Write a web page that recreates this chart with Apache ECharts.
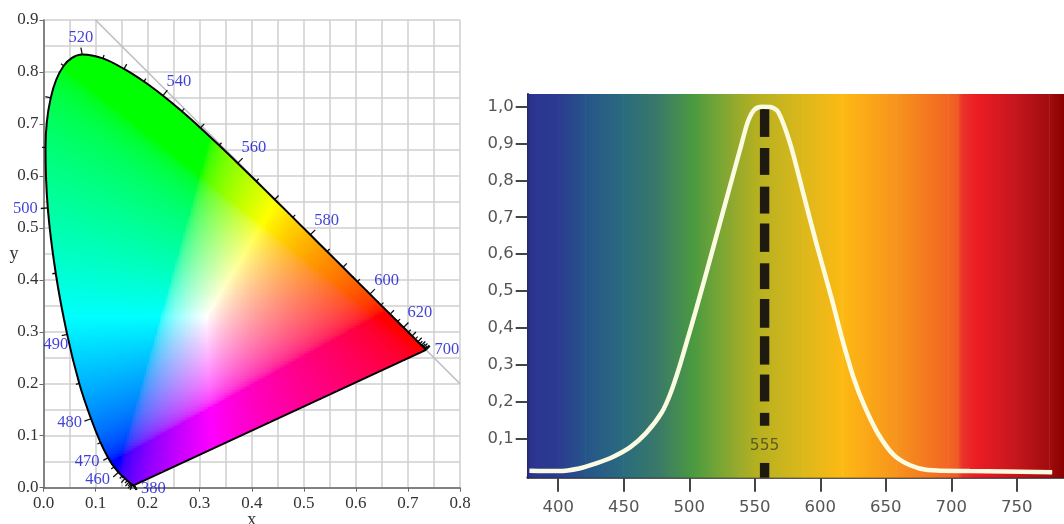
<!DOCTYPE html>
<html><head><meta charset="utf-8">
<style>html,body{margin:0;padding:0;background:#fff}#c{width:1064px;height:524px}</style>
<script src="https://cdn.jsdelivr.net/npm/echarts@6/dist/echarts.min.js"></script>
</head><body><div id="c"></div>
<script>
// Left panel: spectral locus of the chromaticity diagram
var locusWl = [380,385,390,395,400,405,410,415,420,425,430,435,440,445,450,455,460,465,470,475,480,485,490,495,500,505,510,515,520,525,530,535,540,545,550,555,560,565,570,575,580,585,590,595,600,605,610,615,620,625,630,635,640,645,650,655,660,665,670,675,680,700];
var locusX = [.1741,.1740,.1738,.1736,.1733,.1730,.1726,.1721,.1714,.1703,.1689,.1669,.1644,.1611,.1566,.1510,.1440,.1355,.1241,.1096,.0913,.0687,.0454,.0235,.0082,.0039,.0139,.0389,.0743,.1142,.1547,.1929,.2296,.2658,.3016,.3373,.3731,.4087,.4441,.4788,.5125,.5448,.5752,.6029,.6270,.6482,.6658,.6801,.6915,.7006,.7079,.7140,.7190,.7230,.7260,.7283,.7300,.7320,.7334,.7344,.7347,.7347];
var locusY = [.0050,.0050,.0049,.0049,.0048,.0048,.0048,.0048,.0051,.0058,.0069,.0086,.0109,.0138,.0177,.0227,.0297,.0399,.0578,.0868,.1327,.2007,.2950,.4127,.5384,.6548,.7502,.8120,.8338,.8262,.8059,.7816,.7543,.7243,.6923,.6589,.6245,.5896,.5547,.5202,.4866,.4544,.4242,.3965,.3725,.3514,.3340,.3197,.3083,.2993,.2920,.2859,.2809,.2770,.2740,.2717,.2700,.2680,.2666,.2656,.2653,.2653];
var labelWl = [380,460,470,480,490,500,520,540,560,580,600,620,700];
var labelX = [.211,.104,.084,.05,.024,-.035,.072,.26,.404,.544,.659,.723,.775];
var labelY = [-.001,.015,.05,.126,.275,.537,.866,.782,.654,.513,.398,.336,.266];
var diagonalX = [.1,.8];
var diagonalY = [.9,.2];
// Right panel: sensitivity curve
var curveWl = [378,400,416,429,442,455,467,479,486,493,500,510,520,530,540,545,550,556,562,568,577,587,597,609,617,626,634,644,656,669,682,714,777];
var curveV = [.012,.011,.018,.032,.05,.076,.114,.17,.225,.30,.385,.51,.64,.77,.90,.962,.993,1,.999,.985,.90,.765,.629,.475,.366,.258,.185,.113,.055,.026,.014,.011,.008];
var dashStart = [.995,.888,.783,.683,.575,.478,.377,.273,.169,.033];
var dashEnd = [.918,.815,.71,.606,.505,.40,.30,.20,.134,-.007];
var peakWl = 557.5;
var stopWl = [376.7,380,400,421,450,477,503,518,538,551,587,617,658,698,705,708,719,750,775,786];
var stopColor = ['#262a7c','#2b3590','#2b3b90','#26558a','#2a6b7e','#3a7a68','#4a9a40','#6ca338','#9aab2b','#b4b020','#dcb81c','#fdb913','#f7941d','#f26522','#f05a26','#e9342b','#ed1c24','#c4161c','#a00c0e','#8a0000'];
var xTicksRight = [400,450,500,550,600,650,700,750];
var yTicksRight = [.1,.2,.3,.4,.5,.6,.7,.8,.9,1];

// Outline used only to test whether a fill cell lies within the smooth locus
function denseOutline(){
  var px=[],py=[],n=locusX.length;
  for(var i=0;i<n-1;i++){
    var a=Math.max(i-1,0),d=Math.min(i+2,n-1);
    for(var k=0;k<6;k++){
      var t=k/6,t2=t*t,t3=t2*t;
      function cr(p){return .5*(2*p[i]+(p[i+1]-p[a])*t+(2*p[a]-5*p[i]+4*p[i+1]-p[d])*t2+(-p[a]+3*p[i]-3*p[i+1]+p[d])*t3);}
      px.push(cr(locusX));py.push(cr(locusY));
    }
  }
  return [px,py];
}
var outline=denseOutline(),ox=outline[0],oy=outline[1];
function inside(x,y){
  var c=false,n=ox.length;
  for(var i=0,j=n-1;i<n;j=i++){
    if((oy[i]>y)!==(oy[j]>y)&&x<(ox[j]-ox[i])*(y-oy[i])/(oy[j]-oy[i])+ox[i])c=!c;
  }
  return c;
}
function xyColor(x,y){
  var z=1-x-y,X=x,Y=y,Z=z;
  var r=3.2406*X-1.5372*Y-0.4986*Z,g=-0.9689*X+1.8758*Y+0.0415*Z,b=0.0557*X-0.2040*Y+1.0570*Z;
  r=Math.max(r,0);g=Math.max(g,0);b=Math.max(b,0);
  var m=Math.max(r,g,b);r/=m;g/=m;b/=m;
  function gm(v){return Math.round(255*(v<=.0031308?12.92*v:1.055*Math.pow(v,1/2.4)-.055));}
  return 'rgb('+gm(r)+','+gm(g)+','+gm(b)+')';
}
var step=.003,cells=[];
for(var cx=0;cx<.76;cx+=step){for(var cy=0;cy<.85;cy+=step){
  if(inside(cx,cy))cells.push([cx,cy]);
}}
var serif='"Liberation Serif"',sans='"DejaVu Sans"';
var gridGray='#cfcfcf';
var option={
  backgroundColor:'#fff',animation:false,
  grid:[{left:43.5,top:20,width:416.5,height:467.7,outerBoundsMode:'none'},{left:527.7,top:94,width:536.3,height:383.7,outerBoundsMode:'none'}],
  xAxis:[
   {type:'value',gridIndex:0,min:0,max:.8,interval:.1,name:'x',nameLocation:'middle',nameGap:24,nameMoveOverlap:false,
    nameTextStyle:{fontFamily:serif,fontSize:18,color:'#333'},
    axisLine:{show:true,onZero:false,lineStyle:{color:'#666',width:1.5}},axisTick:{show:true,length:4,lineStyle:{color:'#666'}},
    axisLabel:{fontFamily:serif,fontSize:17,color:'#333',margin:7,formatter:function(v){return v.toFixed(1);}},
    splitLine:{show:true,lineStyle:{color:gridGray,width:1.5}},minorTick:{show:false,splitNumber:2},minorSplitLine:{show:true,lineStyle:{color:gridGray,width:1.5}}},
   {type:'value',gridIndex:1,min:376.7,max:786,
    axisLine:{show:true,onZero:false,lineStyle:{color:'#222',width:2.5}},
    axisTick:{show:true,length:14,customValues:xTicksRight,lineStyle:{color:'#444',width:2}},
    axisLabel:{fontFamily:sans,fontSize:16.5,color:'#555',margin:22,customValues:xTicksRight,formatter:function(v){return String(v);}},
    splitLine:{show:false}}
  ],
  yAxis:[
   {type:'value',gridIndex:0,min:0,max:.9,interval:.1,name:'y',nameLocation:'middle',nameGap:25,nameRotate:0,nameMoveOverlap:false,
    nameTextStyle:{fontFamily:serif,fontSize:18,color:'#333'},
    axisLine:{show:true,onZero:false,lineStyle:{color:'#666',width:1.5}},axisTick:{show:true,length:4,lineStyle:{color:'#666'}},
    axisLabel:{fontFamily:serif,fontSize:17,color:'#333',margin:5,formatter:function(v){return v.toFixed(1);}},
    splitLine:{show:true,lineStyle:{color:gridGray,width:1.5}},minorTick:{show:false,splitNumber:2},minorSplitLine:{show:true,lineStyle:{color:gridGray,width:1.5}}},
   {type:'value',gridIndex:1,min:-.007,max:1.0345,
    axisLine:{show:true,onZero:false,lineStyle:{color:'#1f2560',width:2}},
    axisTick:{show:true,length:12,customValues:yTicksRight,lineStyle:{color:'#444',width:2}},
    axisLabel:{fontFamily:sans,fontSize:16.5,color:'#555',margin:14,customValues:yTicksRight,formatter:function(v){return v.toFixed(1).replace('.',',');}},
    splitLine:{show:false}}
  ],
  series:[
   {type:'line',xAxisIndex:0,yAxisIndex:0,z:2,showSymbol:false,silent:true,
    data:diagonalX.map(function(x,i){return [x,diagonalY[i]];}),lineStyle:{color:'#bdbdbd',width:1.5}},
   {type:'custom',xAxisIndex:0,yAxisIndex:0,z:3,silent:true,progressive:0,coordinateSystem:'cartesian2d',clip:false,
    data:cells,
    renderItem:function(p,api){
      var x=api.value(0),y=api.value(1);
      var a=api.coord([x-step/2,y+step/2]),b=api.coord([x+step/2,y-step/2]);
      var x0=Math.round(a[0]),y0=Math.round(a[1]),x1=Math.round(b[0]),y1=Math.round(b[1]);
      return {type:'rect',shape:{x:x0,y:y0,width:Math.max(x1-x0,1),height:Math.max(y1-y0,1)},style:{fill:xyColor(x,y)}};
    }},
   {type:'line',xAxisIndex:0,yAxisIndex:0,z:4,showSymbol:false,silent:true,clip:false,smooth:.35,
    data:locusX.map(function(x,i){return [x,locusY[i]];}),
    lineStyle:{color:'#000',width:2,join:'round'}},
   {type:'line',xAxisIndex:0,yAxisIndex:0,z:4,showSymbol:false,silent:true,clip:false,
    data:[[locusX[0],locusY[0]],[locusX[locusX.length-1],locusY[locusY.length-1]]],
    lineStyle:{color:'#000',width:2}},
   {type:'custom',xAxisIndex:0,yAxisIndex:0,z:4,silent:true,clip:false,progressive:0,
    data:locusWl.map(function(w,i){return [locusX[i],locusY[i],w];}),
    renderItem:function(p,api){
      var i=p.dataIndex,n=locusX.length,w=api.value(2);
      var a=api.coord([locusX[Math.max(i-1,0)],locusY[Math.max(i-1,0)]]),b=api.coord([locusX[Math.min(i+1,n-1)],locusY[Math.min(i+1,n-1)]]);
      var dx=b[0]-a[0],dy=b[1]-a[1],l=Math.sqrt(dx*dx+dy*dy),nx,ny;
      if(l<.8){ if(w>600){nx=.7;ny=-.7;}else{nx=.5;ny=.85;} }
      else{nx=dy/l;ny=-dx/l;}
      var o=api.coord([api.value(0),api.value(1)]),len=(w%10===0)?((w%20===0&&w>=460&&w<=620)?7:5.5):3.5;
      return {type:'line',shape:{x1:o[0],y1:o[1],x2:o[0]+nx*len,y2:o[1]+ny*len},style:{stroke:'#111',lineWidth:1.3}};
    }},
   {type:'scatter',xAxisIndex:0,yAxisIndex:0,z:5,symbolSize:0,silent:true,clip:false,
    data:labelWl.map(function(w,i){return {value:[labelX[i],labelY[i]],name:String(w)};}),
    label:{show:true,position:'inside',formatter:'{b}',fontFamily:serif,fontSize:16.5,color:'#1010d0'}},
   {type:'custom',xAxisIndex:1,yAxisIndex:1,z:1,silent:true,clip:false,
    data:stopWl.slice(0,-1).map(function(w,i){return [w,stopWl[i+1],i];}),
    renderItem:function(p,api){
      var i=api.value(2);
      var a=api.coord([api.value(0),1.0345]),b=api.coord([api.value(1),-.007]);
      return {type:'rect',shape:{x:a[0]-.2,y:a[1],width:b[0]-a[0]+.4,height:b[1]-a[1]},
        style:{fill:new echarts.graphic.LinearGradient(0,0,1,0,[{offset:0,color:stopColor[i]},{offset:1,color:stopColor[i+1]}])}};
    }},
   {type:'custom',xAxisIndex:1,yAxisIndex:1,z:2,silent:true,clip:false,
    data:dashStart.map(function(v,i){return [peakWl,v,dashEnd[i]];}),
    renderItem:function(p,api){
      var a=api.coord([api.value(0),api.value(1)]),b=api.coord([api.value(0),api.value(2)]);
      return {type:'rect',shape:{x:a[0]-4.7,y:a[1],width:9.4,height:b[1]-a[1]},style:{fill:'#1e1a10'}};
    }},
   {type:'line',xAxisIndex:1,yAxisIndex:1,z:3,showSymbol:false,silent:true,smooth:.3,clip:false,
    data:curveWl.map(function(w,i){return [w,curveV[i]];}),
    lineStyle:{color:'#fbfbe2',width:4.5,cap:'butt'}},
   {type:'scatter',xAxisIndex:1,yAxisIndex:1,z:4,symbolSize:0,silent:true,
    data:[{value:[peakWl,.08],name:'555'}],
    label:{show:true,position:'inside',formatter:'{b}',fontFamily:sans,fontSize:15.5,color:'#4a4622'}}
  ]
};
var chart=echarts.init(document.getElementById('c'),null,{renderer:'canvas'});
chart.setOption(option);
</script></body></html>
